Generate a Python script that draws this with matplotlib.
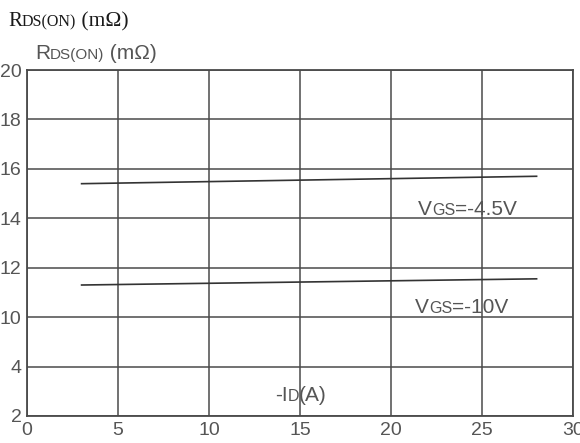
import numpy as np
import matplotlib
matplotlib.use("Agg")
import matplotlib.pyplot as plt

# ---- data ----
y_ticks = [2, 4, 10, 12, 14, 16, 18, 20]
x_ticks = [0, 5, 10, 15, 20, 25, 30]
id_a = [3, 28]
rds_vgs45 = [15.4, 15.7]
rds_vgs10 = [11.3, 11.55]

W, H = 580, 443
fig = plt.figure(figsize=(W / 100, H / 100), dpi=100)
ax = fig.add_axes([27 / W, 1 - 416 / H, (573 - 27) / W, (416 - 70) / H])

idx = np.arange(len(y_ticks), dtype=float)
fwd = lambda v: np.interp(v, y_ticks, idx)
inv = lambda v: np.interp(v, idx, y_ticks)
ax.set_yscale("function", functions=(fwd, inv))
ax.set_ylim(2, 20)
ax.set_xlim(0, 30)
ax.set_xticks(x_ticks)
ax.set_yticks(y_ticks)

gray = "#555555"
ax.grid(True, color="#4a4a4a", linewidth=1.1)
for s in ax.spines.values():
    s.set_color("#4a4a4a")
    s.set_linewidth(1.3)
ax.tick_params(length=0, labelsize=14, labelcolor=gray, pad=4)
for lab in ax.get_xticklabels() + ax.get_yticklabels():
    lab.set_fontfamily("Liberation Sans")

ax.plot(id_a, rds_vgs45, color="#333333", linewidth=1.2)
ax.plot(id_a, rds_vgs10, color="#333333", linewidth=1.2)

renderer = fig.canvas.get_renderer()


def runs(x, y, parts, family="Liberation Sans", color=gray):
    for s, size in parts:
        t = fig.text(x / W, 1 - y / H, s, fontsize=size, family=family,
                     color=color, va="baseline", ha="left")
        bb = t.get_window_extent(renderer)
        x += bb.width


runs(8, 26, [("R", 15), ("DS(ON)", 11.5), (" (m\u03a9)", 15.5)],
     family="Liberation Serif", color="#1a1a1a")
runs(35, 59, [("R", 15), ("DS(ON)", 11), (" (m\u03a9)", 15)])
runs(418, 215, [("V", 15), ("GS", 11.5), ("=-4.5V", 15)])
runs(415, 313, [("V", 15), ("GS", 11.5), ("=-10V", 15)])
runs(275, 401, [("-I", 15), ("D", 11.5), ("(A)", 15)])

fig.savefig("out.png", dpi=100)
